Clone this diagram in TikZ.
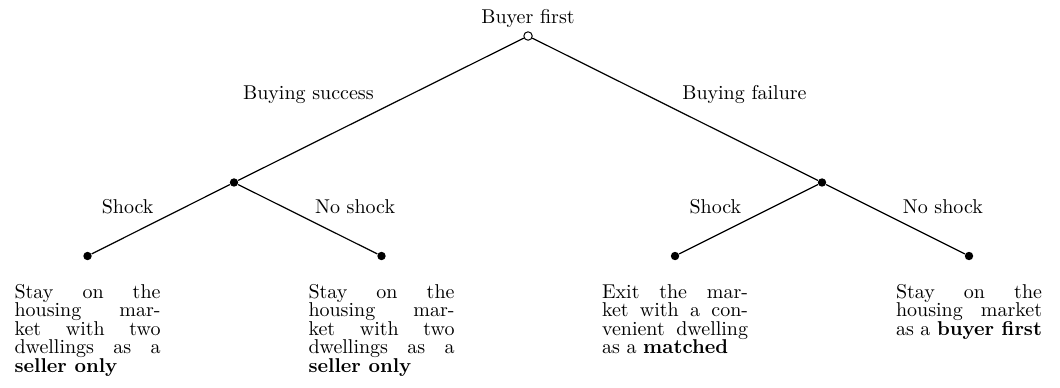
\documentclass[tikz,border=0pt]{standalone}
\usepackage{tikz}
\usetikzlibrary{positioning}
\tikzset{
	dot/.style={circle,fill=black,inner sep=0pt,minimum size=4.2pt},
	odot/.style={circle,draw=black,fill=white,inner sep=0pt,minimum size=4.2pt,line width=0.5pt},
	branch/.style={line width=0.6pt},
	lab/.style={yshift=-1pt},
	outcome/.style={text width=73pt,align=justify,font=\fontsize{10}{9.2}\selectfont,inner sep=3.33pt}
}
\begin{document}
\begin{tikzpicture}
	\useasboundingbox (0,0) rectangle (18.627,6.801);
	% decision points
	\node[odot] (root) at (9.279,6.168) {};
	\node[above=-1.5pt of root] (rootlab) {Buyer first};
	\node[dot] (succ) at (4.112,3.594) {};
	\node[dot] (fail) at (14.445,3.594) {};
	\node[dot] (succshock) at (1.538,2.302) {};
	\node[dot] (succnoshock) at (6.704,2.302) {};
	\node[dot] (failshock) at (11.862,2.302) {};
	\node[dot] (failnoshock) at (17.028,2.302) {};
	% branches
	\draw[branch] (root) -- node[lab,above left] (lsucc) {Buying success} (succ);
	\draw[branch] (root) -- node[lab,above right] (lfail) {Buying failure} (fail);
	\draw[branch] (succ) -- node[lab,above left] (lss) {Shock} (succshock);
	\draw[branch] (succ) -- node[lab,above right] (lsn) {No shock} (succnoshock);
	\draw[branch] (fail) -- node[lab,above left] (lfs) {Shock} (failshock);
	\draw[branch] (fail) -- node[lab,above right] (lfn) {No shock} (failnoshock);
	% outcomes
	\node[outcome,below=8.4pt of succshock] (tss) {Stay on the\linebreak housing mar-\linebreak ket with two\linebreak dwellings as a\linebreak \textbf{seller only}};
	\node[outcome,below=8.4pt of succnoshock] (tsn) {Stay on the\linebreak housing mar-\linebreak ket with two\linebreak dwellings as a\linebreak \textbf{seller only}};
	\node[outcome,below=8.4pt of failshock] (tfs) {Exit the mar-\linebreak ket with a con-\linebreak venient dwelling\linebreak as a \textbf{matched}};
	\node[outcome,below=8.4pt of failnoshock] (tfn) {Stay on the\linebreak housing market\linebreak as a \textbf{buyer first}};
\end{tikzpicture}
\end{document}
